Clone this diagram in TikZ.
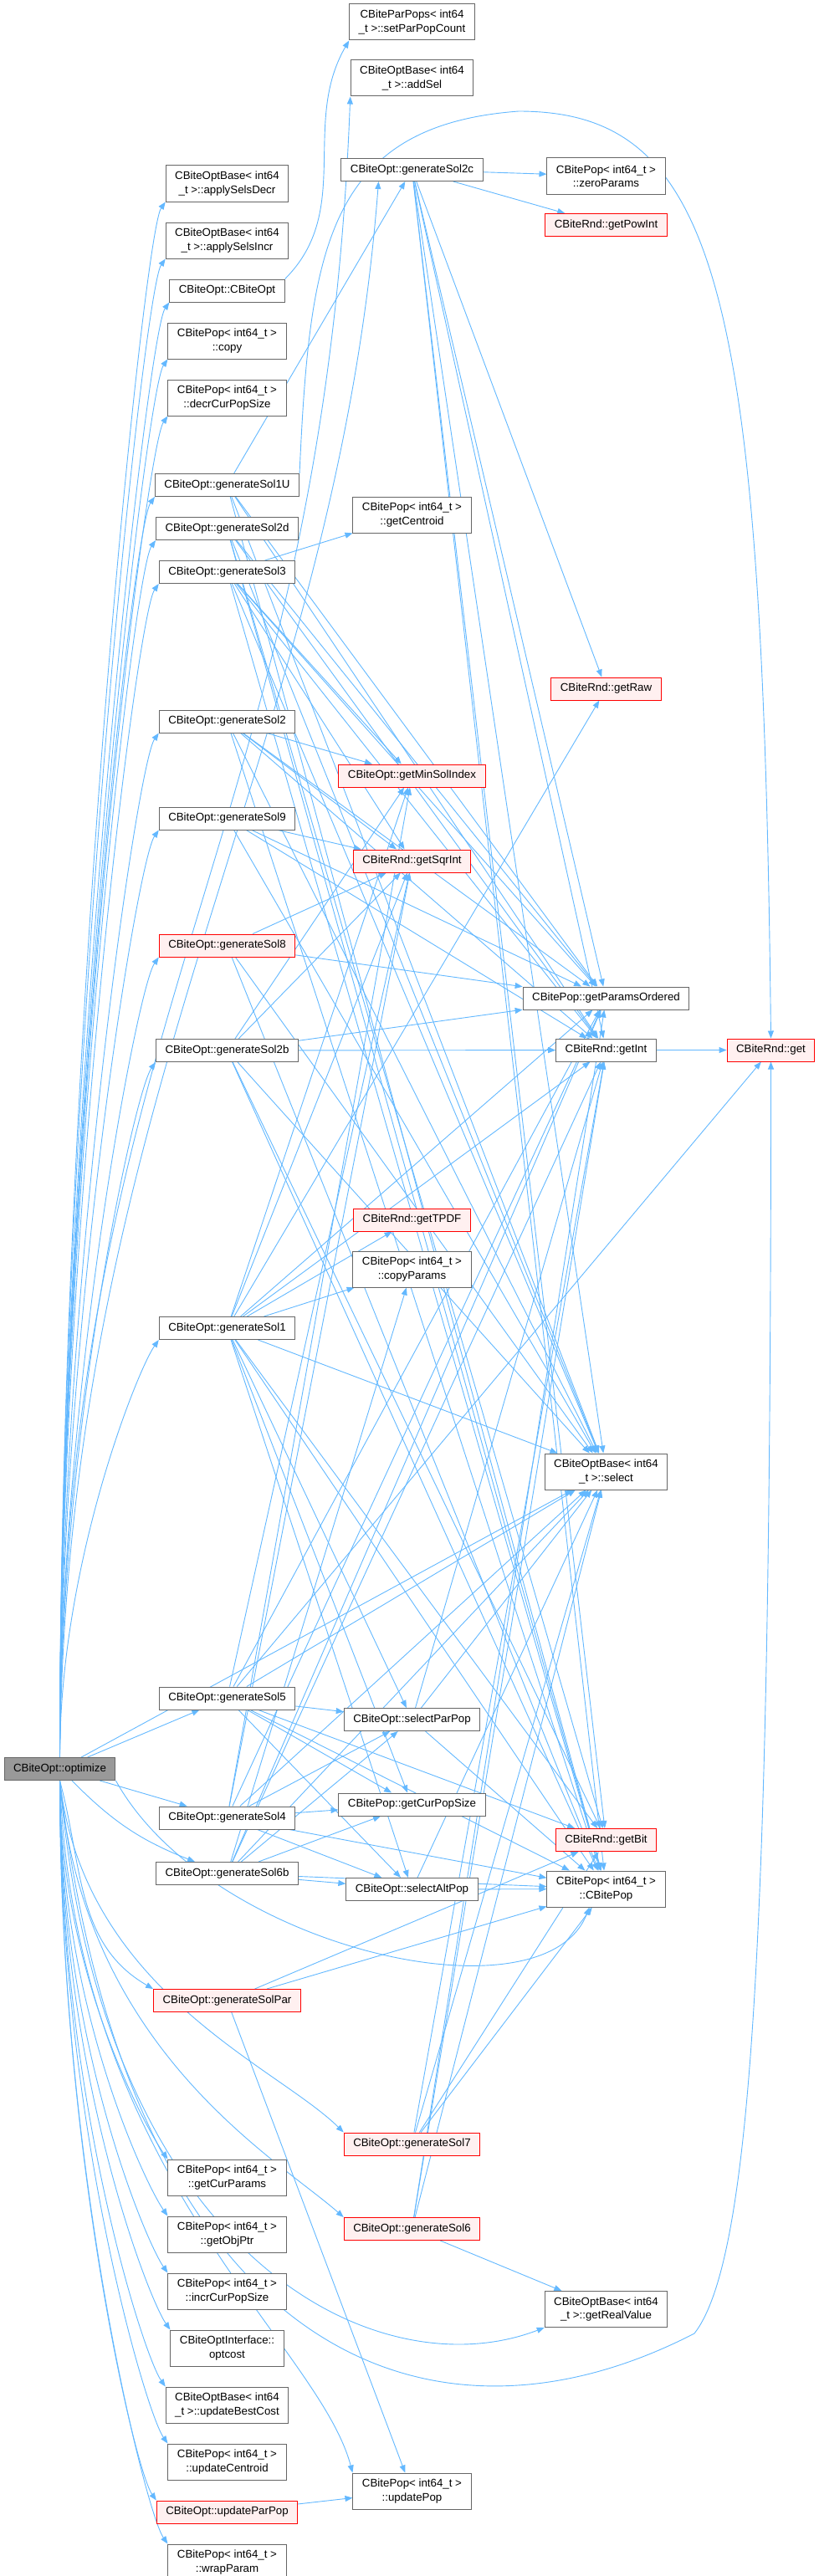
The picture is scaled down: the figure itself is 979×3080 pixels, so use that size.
\documentclass[tikz,border=0pt]{standalone}
\usepackage{fontspec}
\setmainfont{Liberation Sans}
\usepackage{tikz}
\usetikzlibrary{arrows.meta,positioning,backgrounds}
\definecolor{edgeblue}{RGB}{99,184,255}
\definecolor{boxgray}{RGB}{102,102,102}
\definecolor{hotred}{RGB}{255,0,0}
\definecolor{hotfill}{RGB}{255,240,240}
\definecolor{rootfill}{RGB}{153,153,153}

\begin{document}
\begin{tikzpicture}[x=1pt, y=1pt,
          node distance=24pt,
          fn/.style={draw=boxgray, fill=white, line width=1pt,
                     inner xsep=11pt, inner ysep=0pt, minimum height=27pt,
                     align=center, font=\fontsize{13.3}{16.3}\selectfont},
          fn2/.style={fn, minimum height=43pt},
          hot/.style={fn, draw=hotred, fill=hotfill},
          call/.style={draw=edgeblue, line width=0.9pt,
                       -{Triangle[length=9pt,width=7pt]}}]
  \useasboundingbox (0,0) rectangle (979,-3080);

  % caller
  \node[fn, fill=rootfill] (optimize) at (71.5,-2115) {CBiteOpt::optimize};

  % first column of callees
  \node[fn2] (selsDecr) at (271.5,-219.5) {CBiteOptBase< int64\\\_t >::applySelsDecr};
  \node[fn2, below=of selsDecr] (selsIncr) {CBiteOptBase< int64\\\_t >::applySelsIncr};
  \node[fn, below=of selsIncr] (ctor) {CBiteOpt::CBiteOpt};
  \node[fn2, below=of ctor] (popCopy) {CBitePop< int64\_t >\\::copy};
  \node[fn2, below=of popCopy] (decrSize) {CBitePop< int64\_t >\\::decrCurPopSize};
  \node[fn] (gen1U) at (271.5,-580) {CBiteOpt::generateSol1U};
  \node[fn, below=of gen1U] (gen2d) {CBiteOpt::generateSol2d};
  \node[fn, below=of gen2d] (gen3) {CBiteOpt::generateSol3};
  \node[fn] (gen2) at (271.5,-862.5) {CBiteOpt::generateSol2};
  \node[fn] (gen9) at (271.5,-978.5) {CBiteOpt::generateSol9};
  \node[hot] (gen8) at (271.5,-1130.5) {CBiteOpt::generateSol8};
  \node[fn] (gen2b) at (271.5,-1256) {CBiteOpt::generateSol2b};
  \node[fn] (gen1) at (271.5,-1588) {CBiteOpt::generateSol1};
  \node[fn] (gen5) at (271.5,-2030.5) {CBiteOpt::generateSol5};
  \node[fn] (gen4) at (271.5,-2173.5) {CBiteOpt::generateSol4};
  \node[fn] (gen6b) at (271.5,-2240) {CBiteOpt::generateSol6b};
  \node[hot] (genPar) at (271.5,-2392) {CBiteOpt::generateSolPar};
  \node[fn2] (curParams) at (271.5,-2603.5) {CBitePop< int64\_t >\\::getCurParams};
  \node[fn2, below=of curParams] (objPtr) {CBitePop< int64\_t >\\::getObjPtr};
  \node[fn2, below=of objPtr] (incrSize) {CBitePop< int64\_t >\\::incrCurPopSize};
  \node[fn2, below=of incrSize] (optcost) {CBiteOptInterface::\\optcost};
  \node[fn2, below=of optcost] (bestCost) {CBiteOptBase< int64\\\_t >::updateBestCost};
  \node[fn2, below=of bestCost] (updCentroid) {CBitePop< int64\_t >\\::updateCentroid};
  \node[hot, below=of updCentroid] (updParPop) {CBiteOpt::updateParPop};
  \node[fn2, below=of updParPop] (wrapParam) {CBitePop< int64\_t >\\::wrapParam};

  % second column
  \node[fn2] (parPopCount) at (492.5,-26.5) {CBiteParPops< int64\\\_t >::setParPopCount};
  \node[fn2] (addSel) at (492.5,-93.5) {CBiteOptBase< int64\\\_t >::addSel};
  \node[fn] (gen2c) at (492.5,-203) {CBiteOpt::generateSol2c};
  \node[fn2] (centroid) at (492.5,-615.5) {CBitePop< int64\_t >\\::getCentroid};
  \node[hot] (minSol) at (492.5,-927.5) {CBiteOpt::getMinSolIndex};
  \node[hot] (sqrInt) at (492.5,-1029.5) {CBiteRnd::getSqrInt};
  \node[hot] (tpdf) at (492.5,-1458.5) {CBiteRnd::getTPDF};
  \node[fn2] (copyParams) at (492.5,-1517.5) {CBitePop< int64\_t >\\::copyParams};
  \node[fn] (selParPop) at (492.5,-2056) {CBiteOpt::selectParPop};
  \node[fn] (curPopSize) at (492.5,-2157.5) {CBitePop::getCurPopSize};
  \node[fn] (selAltPop) at (492.5,-2259) {CBiteOpt::selectAltPop};
  \node[hot] (gen7) at (492.5,-2563.5) {CBiteOpt::generateSol7};
  \node[hot] (gen6) at (492.5,-2665) {CBiteOpt::generateSol6};
  \node[fn2] (updPop) at (492.5,-2978.5) {CBitePop< int64\_t >\\::updatePop};

  % third column
  \node[fn2] (zeroParams) at (724.5,-210.5) {CBitePop< int64\_t >\\::zeroParams};
  \node[hot] (powInt) at (724.5,-269) {CBiteRnd::getPowInt};
  \node[hot] (getRaw) at (724.5,-823.5) {CBiteRnd::getRaw};
  \node[fn] (paramsOrd) at (724.5,-1193.5) {CBitePop::getParamsOrdered};
  \node[fn] (getInt) at (724.5,-1255.5) {CBiteRnd::getInt};
  \node[fn2] (select) at (724.5,-1759.5) {CBiteOptBase< int64\\\_t >::select};
  \node[hot] (getBit) at (724.5,-2200) {CBiteRnd::getBit};
  \node[fn2] (popCtor) at (724.5,-2258.5) {CBitePop< int64\_t >\\::CBitePop};
  \node[fn2] (realValue) at (724.5,-2761) {CBiteOptBase< int64\\\_t >::getRealValue};
  \node[hot] (get) at (921.5,-1255.5) {CBiteRnd::get};

  \begin{scope}[on background layer]
    % calls made by optimize
    \foreach \t/\l in {selsDecr/850, selsIncr/820, ctor/790, popCopy/760,
                       decrSize/740, gen1U/680, gen2d/650, gen3/630, gen2/550,
                       gen9/500, gen8/430, gen2b/380, gen1/230}
      \draw[call] (optimize.north) .. controls +(0,\l) and +(-26,-37) .. (\t.south west);
    \foreach \t/\l in {curParams/230, objPtr/270, incrSize/310, optcost/350,
                       bestCost/380, updCentroid/410, updParPop/440, wrapParam/470}
      \draw[call] (optimize.south) .. controls +(0,-\l) and +(-26,37) .. (\t.north west);
    \draw[call] (optimize) -- (gen5);
    \draw[call] (optimize) -- (gen4);
    \draw[call] (optimize) to[bend right=12] (gen6b);
    \draw[call] (optimize.south) to[out=-75, in=150] (genPar.north west);
    \draw[call] (optimize) -- (select);
    \draw[call] (optimize.north) .. controls (75,-1200) and (385,-1000) .. (addSel.south west);
    \draw[call] (optimize.north) .. controls (80,-1300) and (400,-900) .. ([xshift=-40pt]gen2c.south);
    \draw[call] (optimize.south) .. controls (100,-2380) and (330,-2470) .. (gen7.north west);
    \draw[call] (optimize.south) .. controls (100,-2450) and (330,-2580) .. (gen6.north west);
    \draw[call] (optimize.south) .. controls (90,-2600) and (380,-2800) .. (updPop.north west);
    \draw[call] (optimize.south) .. controls (120,-2700) and (450,-2860) .. (realValue.south west);
    \draw[call] (optimize.south east) .. controls (250,-2330) and (650,-2420) .. ([xshift=-20pt]popCtor.south);
    \draw[call] (optimize.south) .. controls (150,-2800) and (500,-2960) .. (830,-2790)
                .. controls (900,-2700) and (921.5,-2300) .. (get.south);

    % calls further on
    \draw[call] (ctor.north east) to[out=45, in=240] (parPopCount.south west);
    \draw[call] (gen1U.north east) .. controls (370,-300) and (390,-150) .. (620,-133)
                .. controls (860,-133) and (912,-350) .. (get.north);
    \foreach \a/\b in {gen1U/gen2c, gen1U/paramsOrd, gen1U/getInt, gen1U/select, gen1U/popCtor,
        gen2d/paramsOrd, gen2d/getInt, gen2d/select, gen2d/getBit, gen2d/popCtor,
        gen3/centroid, gen3/minSol, gen3/sqrInt, gen3/paramsOrd, gen3/getInt,
        gen3/select, gen3/popCtor,
        gen2/minSol, gen2/sqrInt, gen2/paramsOrd, gen2/getInt, gen2/select, gen2/popCtor,
        gen9/sqrInt, gen9/paramsOrd, gen9/getInt, gen9/select,
        gen8/sqrInt, gen8/paramsOrd, gen8/select, gen8/popCtor,
        gen2b/minSol, gen2b/sqrInt, gen2b/paramsOrd, gen2b/getInt, gen2b/select,
        gen2b/getBit, gen2b/popCtor,
        gen1/tpdf, gen1/copyParams, gen1/sqrInt, gen1/minSol, gen1/paramsOrd,
        gen1/getInt, gen1/getRaw, gen1/select, gen1/getBit, gen1/popCtor,
        gen1/selParPop, gen1/curPopSize, gen1/selAltPop,
        gen5/selParPop, gen5/curPopSize, gen5/selAltPop, gen5/sqrInt, gen5/paramsOrd,
        gen5/select, gen5/getBit, gen5/popCtor, gen5/get,
        gen4/selParPop, gen4/curPopSize, gen4/selAltPop, gen4/sqrInt, gen4/minSol,
        gen4/paramsOrd, gen4/select, gen4/popCtor,
        gen6b/selParPop, gen6b/curPopSize, gen6b/selAltPop, gen6b/paramsOrd,
        gen6b/select, gen6b/getInt, gen6b/popCtor, gen6b/copyParams,
        genPar/updPop, genPar/popCtor, genPar/getBit,
        selParPop/select, selParPop/getInt, selParPop/popCtor,
        selAltPop/popCtor, selAltPop/select,
        gen7/select, gen7/getInt, gen7/getBit, gen7/popCtor,
        gen6/select, gen6/realValue, gen6/getInt, gen6/paramsOrd,
        gen2c/zeroParams, gen2c/powInt, gen2c/getRaw, gen2c/paramsOrd, gen2c/getInt,
        gen2c/select, gen2c/getBit, gen2c/popCtor,
        getInt/get, updParPop/updPop}
      \draw[call] (\a) -- (\b);
  \end{scope}
\end{tikzpicture}
\end{document}
